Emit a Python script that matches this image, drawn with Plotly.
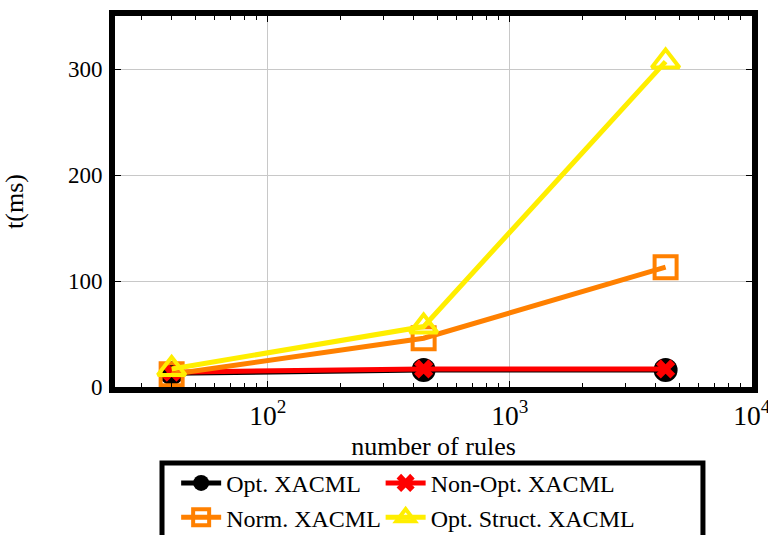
import plotly.graph_objects as go

rules = [40, 440, 4400]
opt_xacml = [13, 16, 16]
non_opt_xacml = [14, 17, 17]
norm_xacml = [12, 46, 113]
opt_struct_xacml = [17, 57, 307]

series = [
    ("Opt. XACML", opt_xacml, "black", "legend",
     dict(symbol="circle", size=24, color="black", line=dict(width=0))),
    ("Non-Opt. XACML", non_opt_xacml, "#ff0000", "legend2",
     dict(symbol="x", size=17, color="#ff0000", line=dict(width=0))),
    ("Norm. XACML", norm_xacml, "#ff8000", "legend",
     dict(symbol="square-open", size=22, color="#ff8000", line=dict(width=4, color="#ff8000"))),
    ("Opt. Struct. XACML", opt_struct_xacml, "#ffee00", "legend2",
     dict(symbol="triangle-up-open", size=24, color="#ffee00", line=dict(width=4, color="#ffee00"))),
]

FONT = "Liberation Serif"

fig = go.Figure()
for name, vals, col, lg, mk in series:
    fig.add_trace(go.Scatter(x=rules, y=vals, name=name, mode="lines+markers",
                             line=dict(color=col, width=5), marker=mk, legend=lg))

leg_common = dict(orientation="v", yanchor="top", y=-0.199, xref="paper", yref="paper",
                  borderwidth=0, bgcolor="rgba(0,0,0,0)",
                  font=dict(family=FONT, size=24), itemwidth=40, tracegroupgap=0)

fig.update_layout(
    width=768, height=535,
    margin=dict(l=115, r=16, t=16, b=148, autoexpand=False),
    paper_bgcolor="white", plot_bgcolor="white",
    font=dict(family=FONT, size=22, color="black"),
    showlegend=True,
    legend=dict(x=0.096, xanchor="left", **leg_common),
    legend2=dict(x=0.417, xanchor="left", **leg_common),
    shapes=[dict(type="rect", xref="paper", yref="paper",
                 x0=0.0738, x1=0.923, y0=-0.2049, y1=-0.45,
                 line=dict(color="black", width=5), fillcolor="rgba(0,0,0,0)",
                 layer="above")],
)

fig.update_xaxes(type="log", range=[1.368, 4.0005], dtick=1, exponentformat="power",
                 showexponent="all", ticklabeloverflow="allow",
                 showgrid=True, gridcolor="#c8c8c8", gridwidth=1,
                 showline=True, linecolor="black", linewidth=6, mirror="ticks",
                 ticks="inside", ticklen=6, tickcolor="black", tickwidth=1,
                 ticklabelstandoff=0, tickfont=dict(size=22),
                 minor=dict(dtick="D1", ticks="inside", ticklen=4, tickcolor="black", tickwidth=1, showgrid=False),
                 title=dict(text="number of rules", standoff=9),
                 zeroline=False)
fig.update_yaxes(range=[0, 350], tickvals=[0, 100, 200, 300],
                 showgrid=True, gridcolor="#c8c8c8", gridwidth=1,
                 showline=True, linecolor="black", linewidth=6, mirror="ticks",
                 ticks="inside", ticklen=6, tickcolor="black", tickwidth=1,
                 ticklabelstandoff=2, tickfont=dict(size=23),
                 title=dict(text="t(ms)", standoff=43),
                 zeroline=False)

fig.write_html("out.html",
               config={"displayModeBar": False},
               post_script="document.body.style.margin='0';document.body.style.overflow='hidden';")
